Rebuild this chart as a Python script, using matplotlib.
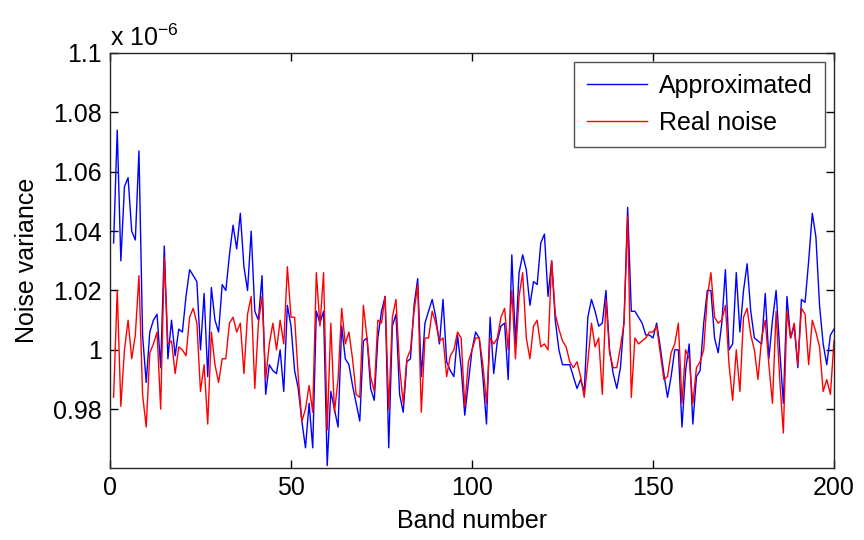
import numpy as np
import matplotlib
matplotlib.use("Agg")
import matplotlib.pyplot as plt
from matplotlib.ticker import FuncFormatter, MultipleLocator

plt.rcParams['font.family'] = ['Liberation Sans', 'DejaVu Sans']
plt.rcParams['mathtext.default'] = 'regular'

# Band index and noise variance estimates (offset from 1, in units of 1e-9)
bands = np.arange(1, 201)

approx_dev = [
    36, 74, 30, 55, 58, 40, 37, 67, 5, -11,
    6, 10, 12, -6, 35, -3, 10, -2, 7, 6,
    18, 27, 25, 23, 0, 19, -9, 21, 10, 6,
    22, 20, 32, 42, 34, 46, 28, 20, 40, 13,
    10, 25, -15, -5, -7, -8, 0, -14, 15, 8,
    -7, -13, -24, -33, -18, -33, 13, 9, 13, -39,
    -14, -20, -26, 8, -3, -5, -12, -18, -24, 3,
    4, -13, -17, 4, 13, 18, -33, 8, 12, -15,
    -21, -4, -3, 15, 24, -9, 9, 13, 17, 11,
    2, 17, -4, -7, -9, 5, -6, -22, -11, 0,
    6, 4, -9, -25, 11, -8, 3, 8, 9, -10,
    32, 2, 26, 32, 27, 15, 23, 22, 36, 39,
    18, 30, 10, 0, -5, -5, -5, -9, -13, -10,
    -14, 11, 17, 13, 8, 9, 20, 0, -8, -13,
    -6, 10, 48, 13, 13, 11, 9, 5, 5, 4,
    9, 1, -8, -16, -9, 0, 0, -26, -7, 2,
    -25, -9, -7, 9, 20, 20, 4, -1, 9, 27,
    0, 2, 26, 6, 20, 29, 13, 4, 3, 2,
    19, -3, 10, 20, 0, -18, 18, 4, 8, -6,
    17, 16, 30, 46, 38, 15, 2, -5, 5, 7,
]

real_dev = [
    -16, 20, -19, 0, 10, -3, 5, 25, -15, -26,
    -1, 2, 6, -20, 31, 2, 3, -8, 1, 0,
    -2, 11, 14, 9, -14, -5, -25, 6, -5, -11,
    -3, -3, 9, 11, 6, 9, -8, 12, 18, -13,
    9, 18, -10, 2, 9, 0, 10, 2, 28, 11,
    11, -9, -24, -20, -12, -21, 26, 8, 26, -27,
    9, -21, -10, 14, 2, 6, -3, -15, -16, 15,
    4, -9, -14, 10, 9, 18, -20, 11, 17, -6,
    -18, -3, 0, 13, 22, -21, 4, 4, 13, 9,
    3, 4, -9, -2, 0, 6, 4, -19, -4, 0,
    4, 4, -5, -18, 4, 2, 4, 11, 14, 0,
    20, -3, 18, 26, 4, -3, 8, 10, 1, 2,
    0, 30, 12, 7, 3, 1, -4, -6, -4, -9,
    -16, -4, 9, 1, 4, -15, 17, -1, -6, -6,
    1, 9, 45, -16, 4, 2, 3, 4, 6, 6,
    8, -1, -10, -9, -1, 2, 9, -18, 0, -3,
    -18, -6, -4, 0, 18, 26, 11, 9, 10, 15,
    -5, -17, 0, -14, 11, 14, 5, 0, -10, 4,
    10, -5, -18, 13, -10, -28, 13, 4, 9, -5,
    14, 12, -5, 10, 6, 1, -14, -10, -15, 3,
]

y_ticks = [0.98, 1.0, 1.02, 1.04, 1.06, 1.08, 1.1]

approximated = 1 + np.array(approx_dev) / 1000.0
real_noise = 1 + np.array(real_dev) / 1000.0

fig = plt.figure(figsize=(8.64, 5.4), dpi=100)
ax = fig.add_axes([0.1273, 0.1333, 0.8380, 0.7686])

ax.plot(bands, approximated, color=(0, 0, 1), lw=1.0, label='Approximated')
ax.plot(bands, real_noise, color=(1, 0, 0), lw=1.0, label='Real noise')

ax.set_xlim(0, 200)
ax.set_ylim(0.9602, 1.1)
ax.xaxis.set_major_locator(MultipleLocator(50))
ax.set_yticks(y_ticks)
ax.yaxis.set_major_formatter(FuncFormatter(lambda v, p: ('%.2f' % v).rstrip('0').rstrip('.')))

ax.tick_params(direction='in', top=True, right=True, labelsize=18, length=6, width=1, pad=6)
for s in ax.spines.values():
    s.set_linewidth(1.0)
    s.set_color('#262626')

ax.set_xlabel('Band number', fontsize=18, labelpad=6)
ax.set_ylabel('Noise variance', fontsize=18, labelpad=10)
ax.text(0.0, 1.005, r'x 10$^{-6}$', transform=ax.transAxes, fontsize=18,
        ha='left', va='bottom')

leg = ax.legend(loc='upper right', fontsize=18, frameon=True, fancybox=False,
                edgecolor='#262626', handlelength=2.4, borderpad=0.5,
                labelspacing=0.5, handletextpad=0.5, borderaxespad=0.35)
leg.get_frame().set_linewidth(1.0)

fig.savefig('out.png', dpi=100)
